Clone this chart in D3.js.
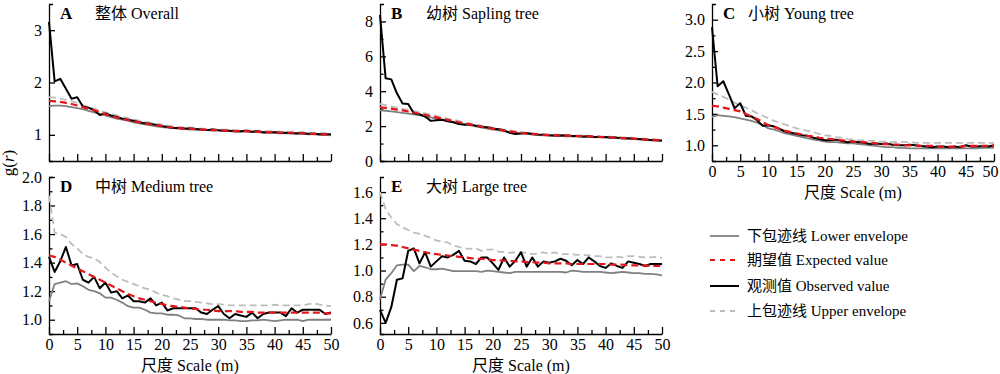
<!DOCTYPE html>
<html>
<head>
<meta charset="utf-8">
<script src="https://cdn.jsdelivr.net/npm/d3@7"></script>
<style>
  body { margin: 0; background: #fff; }
  svg text { font-family: "Liberation Serif", "Noto Sans CJK SC", serif; }
</style>
</head>
<body>
<div id="chart"></div>
<script>
// scale r (m)
const scaleM = [0,1,2,3,4,5,6,7,8,9,10,11,12,13,14,15,16,17,18,19,20,21,22,23,24,25,
  26,27,28,29,30,31,32,33,34,35,36,37,38,39,40,41,42,43,44,45,46,47,48,49,50];

// A 整体 Overall
const overallLower = [1.55,1.56,1.56,1.55,1.53,1.51,1.49,1.46,1.43,1.40,1.37,1.34,1.31,1.29,1.27,1.24,1.22,1.20,1.18,1.16,1.15,1.14,1.13,1.12,1.11,1.10,1.10,1.09,1.09,1.08,1.08,1.07,1.07,1.06,1.06,1.06,1.05,1.05,1.04,1.04,1.04,1.03,1.03,1.03,1.02,1.02,1.01,1.01,1.00,1.00,0.99];
const overallExpected = [1.65,1.64,1.63,1.61,1.59,1.56,1.53,1.50,1.47,1.44,1.39,1.36,1.33,1.31,1.28,1.26,1.24,1.22,1.20,1.18,1.17,1.15,1.14,1.13,1.12,1.12,1.11,1.10,1.10,1.09,1.09,1.08,1.08,1.07,1.07,1.07,1.06,1.06,1.05,1.05,1.05,1.04,1.04,1.04,1.03,1.03,1.02,1.02,1.01,1.01,1.00];
const overallUpper = [1.72,1.71,1.69,1.67,1.64,1.61,1.57,1.53,1.50,1.47,1.43,1.40,1.37,1.34,1.32,1.29,1.27,1.25,1.23,1.21,1.20,1.18,1.16,1.15,1.14,1.14,1.13,1.12,1.12,1.11,1.11,1.10,1.10,1.09,1.09,1.09,1.08,1.08,1.07,1.07,1.07,1.06,1.06,1.06,1.05,1.05,1.04,1.04,1.03,1.03,1.02];
const overallObserved = [3.16,2.02,2.07,1.88,1.69,1.72,1.54,1.52,1.47,1.38,1.41,1.37,1.34,1.31,1.29,1.27,1.24,1.22,1.21,1.19,1.17,1.15,1.13,1.13,1.12,1.12,1.11,1.10,1.09,1.10,1.09,1.08,1.08,1.07,1.07,1.08,1.06,1.07,1.05,1.05,1.05,1.04,1.04,1.03,1.03,1.03,1.02,1.02,1.01,1.01,1.01];

// B 幼树 Sapling tree
const saplingLower = [2.90,2.88,2.84,2.80,2.76,2.72,2.67,2.62,2.56,2.50,2.43,2.37,2.30,2.23,2.16,2.10,2.04,1.98,1.92,1.86,1.80,1.75,1.70,1.66,1.62,1.58,1.55,1.52,1.49,1.47,1.45,1.44,1.43,1.42,1.41,1.40,1.39,1.38,1.37,1.35,1.34,1.32,1.31,1.29,1.27,1.25,1.23,1.21,1.19,1.17,1.14];
const saplingExpected = [3.08,3.05,3.00,2.95,2.90,2.84,2.78,2.71,2.64,2.57,2.50,2.43,2.36,2.29,2.22,2.15,2.09,2.03,1.97,1.91,1.85,1.80,1.75,1.70,1.66,1.62,1.58,1.55,1.52,1.50,1.48,1.47,1.46,1.45,1.44,1.43,1.42,1.41,1.40,1.38,1.37,1.35,1.34,1.32,1.30,1.28,1.26,1.24,1.22,1.20,1.17];
const saplingUpper = [3.27,3.20,3.13,3.06,2.99,2.93,2.87,2.80,2.73,2.66,2.58,2.50,2.43,2.36,2.29,2.22,2.15,2.09,2.03,1.97,1.91,1.85,1.80,1.75,1.70,1.66,1.62,1.59,1.56,1.54,1.52,1.51,1.50,1.49,1.48,1.47,1.46,1.45,1.44,1.42,1.41,1.39,1.38,1.36,1.34,1.32,1.30,1.28,1.26,1.24,1.21];
const saplingObserved = [8.37,4.74,4.68,3.88,3.30,3.27,2.73,2.68,2.55,2.30,2.33,2.36,2.28,2.22,2.12,2.08,2.10,2.02,1.96,1.93,1.87,1.82,1.76,1.62,1.55,1.57,1.60,1.55,1.52,1.50,1.48,1.46,1.47,1.46,1.43,1.44,1.41,1.42,1.38,1.38,1.37,1.34,1.34,1.31,1.30,1.27,1.26,1.23,1.21,1.19,1.17];

// C 小树 Young tree
const youngLower = [1.45,1.48,1.47,1.46,1.45,1.43,1.41,1.39,1.36,1.32,1.27,1.25,1.22,1.19,1.17,1.15,1.13,1.11,1.09,1.08,1.06,1.05,1.05,1.04,1.03,1.03,1.02,1.01,1.00,0.99,0.98,0.97,0.97,0.96,0.96,0.95,0.95,0.95,0.95,0.95,0.95,0.95,0.95,0.95,0.95,0.95,0.95,0.95,0.96,0.96,0.96];
const youngExpected = [1.63,1.62,1.60,1.58,1.56,1.54,1.50,1.46,1.42,1.37,1.32,1.29,1.26,1.23,1.21,1.19,1.17,1.15,1.14,1.12,1.11,1.10,1.09,1.08,1.07,1.06,1.05,1.05,1.04,1.03,1.02,1.02,1.01,1.01,1.00,1.00,1.00,0.99,0.99,0.99,0.98,0.98,0.98,0.98,0.98,0.99,0.99,0.99,0.99,0.99,0.99];
const youngUpper = [1.85,1.81,1.77,1.73,1.68,1.64,1.60,1.56,1.51,1.47,1.43,1.39,1.36,1.33,1.30,1.27,1.25,1.23,1.21,1.18,1.16,1.15,1.13,1.12,1.10,1.09,1.08,1.08,1.07,1.07,1.06,1.06,1.05,1.05,1.05,1.05,1.04,1.04,1.04,1.04,1.04,1.04,1.04,1.04,1.04,1.04,1.04,1.04,1.04,1.04,1.04];
const youngObserved = [2.88,1.94,2.02,1.81,1.59,1.67,1.47,1.46,1.40,1.31,1.32,1.30,1.26,1.22,1.20,1.18,1.16,1.15,1.12,1.10,1.08,1.08,1.09,1.07,1.05,1.06,1.05,1.04,1.02,1.03,1.02,1.03,1.01,1.00,1.00,1.01,1.00,0.99,0.98,0.97,0.98,0.98,0.97,0.98,0.97,1.00,0.98,0.98,0.99,0.98,1.00];

// D 中树 Medium tree
const mediumLower = [1.13,1.25,1.26,1.27,1.25,1.255,1.235,1.21,1.20,1.185,1.155,1.155,1.14,1.12,1.095,1.085,1.085,1.07,1.05,1.045,1.045,1.035,1.035,1.03,1.01,1.01,1.005,1.005,1.0,1.0,1.0,1.0,0.995,0.995,0.99,0.99,0.995,0.995,1.0,0.995,0.99,0.995,1.0,1.0,1.0,0.99,1.0,1.0,1.0,1.0,1.0];
const mediumExpected = [1.45,1.44,1.42,1.40,1.38,1.36,1.34,1.32,1.30,1.28,1.26,1.24,1.22,1.20,1.18,1.165,1.15,1.14,1.13,1.12,1.11,1.10,1.095,1.09,1.085,1.08,1.075,1.07,1.07,1.065,1.06,1.06,1.06,1.06,1.055,1.055,1.055,1.05,1.05,1.05,1.05,1.05,1.05,1.05,1.05,1.05,1.05,1.05,1.05,1.045,1.045];
const mediumUpper = [1.87,1.61,1.60,1.58,1.53,1.50,1.46,1.44,1.43,1.405,1.365,1.33,1.305,1.28,1.265,1.25,1.235,1.22,1.21,1.19,1.175,1.165,1.15,1.14,1.13,1.13,1.125,1.12,1.115,1.11,1.11,1.105,1.10,1.10,1.10,1.10,1.10,1.10,1.10,1.10,1.105,1.10,1.10,1.10,1.10,1.10,1.11,1.115,1.105,1.10,1.095];
const mediumObserved = [1.44,1.335,1.41,1.51,1.38,1.39,1.28,1.26,1.30,1.22,1.26,1.19,1.20,1.15,1.17,1.13,1.13,1.12,1.15,1.10,1.12,1.065,1.08,1.08,1.08,1.08,1.08,1.05,1.04,1.07,1.095,1.04,1.01,1.04,1.03,1.02,1.05,1.01,1.04,1.05,1.05,1.05,1.025,1.08,1.05,1.07,1.07,1.07,1.07,1.04,1.05];

// E 大树 Large tree
const largeLower = [0.78,0.93,0.98,1.04,1.045,1.045,0.995,1.035,1.025,1.01,1.01,1.015,1.005,0.995,0.995,0.995,0.995,0.995,0.99,1.0,0.995,0.99,0.985,0.98,0.99,0.99,0.99,0.99,0.99,0.99,0.99,0.99,0.99,0.985,1.0,0.995,0.99,0.99,0.99,0.99,0.985,0.98,0.985,0.99,0.985,0.98,0.98,0.975,0.975,0.97,0.963];
const largeExpected = [1.20,1.20,1.195,1.19,1.18,1.17,1.16,1.15,1.14,1.13,1.125,1.12,1.115,1.11,1.105,1.10,1.095,1.09,1.09,1.085,1.08,1.08,1.075,1.075,1.07,1.07,1.065,1.065,1.06,1.06,1.055,1.055,1.055,1.055,1.05,1.05,1.05,1.05,1.05,1.05,1.05,1.045,1.045,1.045,1.04,1.04,1.04,1.04,1.035,1.035,1.035];
const largeUpper = [1.60,1.47,1.405,1.355,1.33,1.31,1.29,1.28,1.265,1.25,1.23,1.22,1.215,1.19,1.18,1.17,1.165,1.17,1.15,1.16,1.16,1.145,1.14,1.135,1.14,1.14,1.135,1.125,1.13,1.14,1.125,1.14,1.125,1.125,1.125,1.12,1.12,1.115,1.11,1.11,1.10,1.10,1.105,1.10,1.11,1.11,1.105,1.10,1.10,1.105,1.095];
const largeObserved = [0.70,0.60,0.72,0.93,0.94,1.15,1.17,1.055,1.14,1.03,1.07,1.11,1.10,1.12,1.15,1.075,1.07,1.05,1.10,1.10,1.055,1.005,1.10,1.03,1.075,1.14,1.03,1.10,1.03,1.07,1.06,1.07,1.09,1.075,1.04,1.08,1.05,1.10,1.07,1.035,1.02,1.055,1.035,1.02,1.07,1.06,1.05,1.035,1.05,1.05,1.05];

const seriesNames = ['下包迹线 Lower envelope', '期望值 Expected value', '观测值 Observed value', '上包迹线 Upper envelope'];

// line styles: lower, expected, observed, upper
const STYLES = {
  lower:    { stroke: '#808080', width: 1.8, dash: null },
  expected: { stroke: '#e3161c', width: 2.2, dash: '7,4' },
  observed: { stroke: '#000000', width: 2, dash: null },
  upper:    { stroke: '#bdbdbd', width: 1.8, dash: '7,4' },
};

const panels = [
  { letter: 'A', title: '整体 Overall', left: 49, top: 4, domain: [0.5, 3.5], major: [1, 2, 3], minor: [], fmt: d3.format('d'), xLabels: false, titleGap: 46,
    lower: overallLower, expected: overallExpected, observed: overallObserved, upper: overallUpper },
  { letter: 'B', title: '幼树 Sapling tree', left: 380, top: 4, domain: [0, 9], major: [0, 2, 4, 6, 8], minor: [1, 3, 5, 7], fmt: d3.format('d'), xLabels: false, titleGap: 46,
    lower: saplingLower, expected: saplingExpected, observed: saplingObserved, upper: saplingUpper },
  { letter: 'C', title: '小树 Young tree', left: 712, top: 4, domain: [0.75, 3.25], major: [1, 1.5, 2, 2.5, 3], minor: [1.25, 1.75, 2.25, 2.75], fmt: d3.format('.1f'), xLabels: true, titleGap: 36,
    lower: youngLower, expected: youngExpected, observed: youngObserved, upper: youngUpper },
  { letter: 'D', title: '中树 Medium tree', left: 49, top: 177, domain: [0.9, 2.0], major: [1.0, 1.2, 1.4, 1.6, 1.8, 2.0], minor: [1.1, 1.3, 1.5, 1.7, 1.9], fmt: d3.format('.1f'), xLabels: true, titleGap: 46,
    lower: mediumLower, expected: mediumExpected, observed: mediumObserved, upper: mediumUpper },
  { letter: 'E', title: '大树 Large tree', left: 380, top: 177, domain: [0.515, 1.715], major: [0.6, 0.8, 1.0, 1.2, 1.4, 1.6], minor: [0.7, 0.9, 1.1, 1.3, 1.5], fmt: d3.format('.1f'), xLabels: true, titleGap: 46,
    lower: largeLower, expected: largeExpected, observed: largeObserved, upper: largeUpper },
];

const W = 1000, H = 374;
const plotW = 282, plotH = 157;

const svg = d3.select('#chart').append('svg')
  .attr('width', W)
  .attr('height', H);

const x = d3.scaleLinear().domain([0, 50]).range([0, plotW]);
const majorX = [0, 5, 10, 15, 20, 25, 30, 35, 40, 45, 50];
const minorX = [2.5, 7.5, 12.5, 17.5, 22.5, 27.5, 32.5, 37.5, 42.5, 47.5];

function drawPanel(p) {
  const g = svg.append('g').attr('transform', `translate(${p.left},${p.top})`);
  const y = d3.scaleLinear().domain(p.domain).range([plotH, 0]);

  // y axis
  const yMinor = g.append('g')
    .call(d3.axisLeft(y).tickValues(p.minor).tickSize(-3.5).tickFormat(''));
  yMinor.select('.domain').remove();
  const yAxis = g.append('g')
    .call(d3.axisLeft(y).tickValues(p.major).tickSize(-6).tickSizeOuter(-4).tickPadding(7).tickFormat(p.fmt));
  yAxis.selectAll('text').style('font-size', '16px').attr('fill', '#000');

  // x axis
  const xMinor = g.append('g').attr('transform', `translate(0,${plotH})`)
    .call(d3.axisBottom(x).tickValues(minorX).tickSize(-4).tickFormat(''));
  xMinor.select('.domain').remove();
  const xAxis = g.append('g').attr('transform', `translate(0,${plotH})`)
    .call(d3.axisBottom(x).tickValues(majorX).tickSize(-7).tickSizeOuter(0).tickPadding(5)
      .tickFormat(p.xLabels ? d3.format('d') : ''));
  xAxis.selectAll('text').style('font-size', '16px').attr('fill', '#000');
  // keep the right-most label inside the page
  if (p.left + plotW > W - 10) {
    xAxis.selectAll('.tick:last-of-type text').attr('dx', -4);
  }

  g.selectAll('.domain, .tick line').attr('stroke', '#000').attr('stroke-width', 1.3);

  if (p.xLabels) {
    g.append('text')
      .attr('x', plotW / 2)
      .attr('y', plotH + 37)
      .attr('text-anchor', 'middle')
      .style('font-size', '16px')
      .text('尺度 Scale (m)');
  }

  // title
  g.append('text')
    .attr('x', 11).attr('y', 15)
    .style('font-size', '17px').style('font-weight', 'bold')
    .text(p.letter);
  g.append('text')
    .attr('x', p.titleGap).attr('y', 15)
    .style('font-size', '16px')
    .text(p.title);

  const line = d3.line()
    .x((d, i) => x(scaleM[i]))
    .y(d => y(d));

  for (const key of ['lower', 'upper', 'observed', 'expected']) {
    const s = STYLES[key];
    g.append('path')
      .datum(p[key])
      .attr('fill', 'none')
      .attr('stroke', s.stroke)
      .attr('stroke-width', s.width)
      .attr('stroke-dasharray', s.dash)
      .attr('stroke-linejoin', 'round')
      .attr('d', line);
  }
}

panels.forEach(drawPanel);

// y label g(r)
const yl = svg.append('text')
  .attr('transform', 'translate(14,163) rotate(-90)')
  .attr('text-anchor', 'middle')
  .style('font-size', '17px');
yl.append('tspan').text('g(');
yl.append('tspan').style('font-style', 'italic').text('r');
yl.append('tspan').text(')');

// legend
const legendKeys = ['lower', 'expected', 'observed', 'upper'];
const legendY = [236, 260, 286, 311];
const legend = svg.append('g');
legendKeys.forEach((key, i) => {
  const s = STYLES[key];
  legend.append('line')
    .attr('x1', 710).attr('x2', 739)
    .attr('y1', legendY[i]).attr('y2', legendY[i])
    .attr('stroke', s.stroke)
    .attr('stroke-width', s.width)
    .attr('stroke-dasharray', key === 'lower' || key === 'observed' ? null : '5,5');
  legend.append('text')
    .attr('x', 747).attr('y', legendY[i] + 5)
    .style('font-size', '15px')
    .text(seriesNames[i]);
});
</script>
</body>
</html>
